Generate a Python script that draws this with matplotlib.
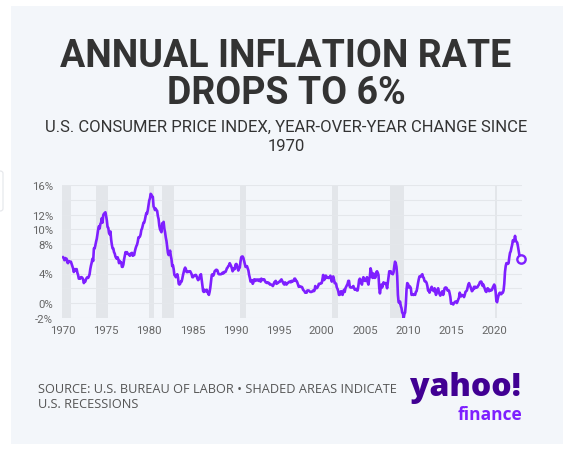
import matplotlib
matplotlib.use("Agg")
import matplotlib.pyplot as plt
import numpy as np
from matplotlib import font_manager
from matplotlib.patches import Rectangle, FancyBboxPatch

# monthly CPI year-over-year change (%), Jan 1970 .. Feb 2023
cpi_1970s = [
    6.2, 6.1, 5.8, 6.1, 6.0, 6.0, 5.5, 5.4, 5.7, 5.6, 5.6, 5.6,
    5.3, 5.0, 4.7, 4.2, 4.4, 4.6, 4.4, 4.6, 4.1, 3.8, 3.3, 3.3,
    3.3, 3.5, 3.5, 3.4, 3.2, 2.7, 2.9, 2.9, 3.2, 3.4, 3.5, 3.4,
    3.6, 3.9, 4.6, 5.1, 5.5, 6.0, 5.7, 7.4, 7.4, 7.8, 8.3, 8.7,
    9.4, 10.0, 10.4, 10.1, 10.7, 10.9, 11.5, 10.9, 11.9, 12.1, 12.2, 12.3,
    11.8, 11.2, 10.3, 10.2, 9.5, 9.3, 9.7, 8.6, 7.9, 7.4, 7.4, 6.9,
    6.7, 6.3, 6.1, 6.0, 6.2, 5.9, 5.4, 5.7, 5.5, 5.5, 4.9, 4.9,
    5.2, 5.9, 6.4, 6.9, 6.7, 6.9, 6.7, 6.6, 6.6, 6.4, 6.7, 6.7,
    6.8, 6.4, 6.6, 6.5, 7.0, 7.4, 7.7, 7.9, 8.3, 8.9, 8.9, 9.0,
    9.3, 9.9, 10.1, 10.5, 10.9, 10.9, 11.3, 11.8, 12.2, 12.1, 12.6, 13.3,
]
cpi_1980s = [
    13.9, 14.2, 14.8, 14.7, 14.4, 14.4, 13.1, 12.9, 12.6, 12.8, 12.6, 12.5,
    11.8, 11.4, 10.5, 10.0, 9.8, 9.6, 10.8, 10.8, 11.0, 10.1, 9.6, 8.9,
    8.4, 7.6, 6.8, 6.5, 6.7, 7.1, 6.4, 5.9, 5.0, 5.1, 4.6, 3.8,
    3.7, 3.5, 3.6, 3.9, 3.5, 2.6, 2.5, 2.6, 2.9, 2.9, 3.3, 3.8,
    4.2, 4.6, 4.8, 4.6, 4.2, 4.2, 4.2, 4.3, 4.3, 4.3, 4.1, 3.9,
    3.5, 3.5, 3.7, 3.7, 3.8, 3.8, 3.6, 3.3, 3.1, 3.2, 3.5, 3.8,
    3.9, 3.1, 2.2, 1.6, 1.5, 1.8, 1.6, 1.6, 1.8, 1.5, 1.3, 1.1,
    1.5, 2.1, 3.0, 3.8, 3.9, 3.7, 3.9, 4.3, 4.4, 4.5, 4.5, 4.4,
    4.0, 3.9, 3.9, 3.9, 3.9, 4.0, 4.1, 4.0, 4.2, 4.2, 4.2, 4.4,
    4.7, 4.8, 5.0, 5.1, 5.4, 5.2, 5.0, 4.7, 4.3, 4.5, 4.7, 4.6,
]
cpi_1990s = [
    5.2, 5.3, 5.2, 4.7, 4.4, 4.7, 4.8, 5.6, 6.2, 6.3, 6.3, 6.1,
    5.7, 5.3, 4.9, 4.9, 5.0, 4.7, 4.4, 3.8, 3.4, 2.9, 3.0, 3.1,
    2.6, 2.8, 3.2, 3.2, 3.0, 3.1, 3.2, 3.1, 3.0, 3.2, 3.0, 2.9,
    3.3, 3.2, 3.1, 3.2, 3.2, 3.0, 2.8, 2.8, 2.7, 2.8, 2.7, 2.7,
    2.5, 2.5, 2.5, 2.4, 2.3, 2.5, 2.8, 2.9, 3.0, 2.6, 2.7, 2.7,
    2.8, 2.9, 2.9, 3.1, 3.2, 3.0, 2.8, 2.6, 2.5, 2.8, 2.6, 2.5,
    2.7, 2.7, 2.8, 2.9, 2.9, 2.8, 3.0, 2.9, 3.0, 3.0, 3.3, 3.3,
    3.0, 3.0, 2.8, 2.5, 2.2, 2.3, 2.2, 2.2, 2.2, 2.1, 1.8, 1.7,
    1.6, 1.4, 1.4, 1.4, 1.7, 1.7, 1.7, 1.6, 1.5, 1.5, 1.5, 1.6,
    1.7, 1.6, 1.7, 2.3, 2.1, 2.0, 2.1, 2.3, 2.6, 2.6, 2.6, 2.7,
]
cpi_2000s = [
    2.7, 3.2, 3.8, 3.1, 3.2, 3.7, 3.7, 3.4, 3.5, 3.4, 3.4, 3.4,
    3.7, 3.5, 2.9, 3.3, 3.6, 3.2, 2.7, 2.7, 2.6, 2.1, 1.9, 1.6,
    1.1, 1.1, 1.5, 1.6, 1.2, 1.1, 1.5, 1.8, 1.5, 2.0, 2.2, 2.4,
    2.6, 3.0, 3.0, 2.2, 2.1, 2.1, 2.1, 2.2, 2.3, 2.0, 1.8, 1.9,
    1.9, 1.7, 1.7, 2.3, 3.1, 3.3, 3.0, 2.7, 2.5, 3.2, 3.5, 3.3,
    3.0, 3.0, 3.1, 3.5, 2.8, 2.5, 3.2, 3.6, 4.7, 4.3, 3.5, 3.4,
    4.0, 3.6, 3.4, 3.5, 4.2, 4.3, 4.1, 3.8, 2.1, 1.3, 2.0, 2.5,
    2.1, 2.4, 2.8, 2.6, 2.7, 2.7, 2.4, 2.0, 2.8, 3.5, 4.3, 4.1,
    4.3, 4.0, 4.0, 3.9, 4.2, 5.0, 5.6, 5.4, 4.9, 3.7, 1.1, 0.1,
    0.0, 0.2, -0.4, -0.7, -1.3, -1.4, -2.1, -1.5, -1.3, -0.2, 1.8, 2.7,
]
cpi_2010s = [
    2.6, 2.1, 2.3, 2.2, 2.0, 1.1, 1.2, 1.1, 1.1, 1.2, 1.1, 1.5,
    1.6, 2.1, 2.7, 3.2, 3.6, 3.6, 3.6, 3.8, 3.9, 3.5, 3.4, 3.0,
    2.9, 2.9, 2.7, 2.3, 1.7, 1.7, 1.4, 1.7, 2.0, 2.2, 1.8, 1.7,
    1.6, 2.0, 1.5, 1.1, 1.4, 1.8, 2.0, 1.5, 1.2, 1.0, 1.2, 1.5,
    1.6, 1.1, 1.5, 2.0, 2.1, 2.1, 2.0, 1.7, 1.7, 1.7, 1.3, 0.8,
    -0.1, 0.0, -0.1, -0.2, 0.0, 0.1, 0.2, 0.2, 0.0, 0.2, 0.5, 0.7,
    1.4, 1.0, 0.9, 1.1, 1.0, 1.0, 0.8, 1.1, 1.5, 1.6, 1.7, 2.1,
    2.5, 2.7, 2.4, 2.2, 1.9, 1.6, 1.7, 1.9, 2.2, 2.0, 2.2, 2.1,
    2.1, 2.2, 2.4, 2.5, 2.8, 2.9, 2.9, 2.7, 2.3, 2.5, 2.2, 1.9,
    1.6, 1.5, 1.9, 2.0, 1.8, 1.6, 1.8, 1.7, 1.7, 1.8, 2.1, 2.3,
]
cpi_2020s = [
    2.5, 2.3, 1.5, 0.3, 0.1, 0.6, 1.0, 1.3, 1.4, 1.2, 1.2, 1.4,
    1.4, 1.7, 2.6, 4.2, 5.0, 5.4, 5.4, 5.3, 5.4, 6.2, 6.8, 7.0,
    7.5, 7.9, 8.5, 8.3, 8.6, 9.1, 8.5, 8.3, 8.2, 7.7, 7.1, 6.5,
    6.4, 6.0,
]

# recession periods (start, end) in decimal years
recession_start = [1969.92, 1973.83, 1980.0, 1981.5, 1990.5, 2001.17, 2007.92, 2020.08]
recession_end = [1970.88, 1975.2, 1980.5, 1982.88, 1991.2, 2001.88, 2009.5, 2020.3]

x_ticks = [1970, 1975, 1980, 1985, 1990, 1995, 2000, 2005, 2010, 2015, 2020]
y_ticks = [-2, 0, 2, 4, 6, 8, 10, 12, 14, 16]
y_labels = ["-2%", "0%", "", "4%", "", "8%", "10%", "12%", "", "16%"]

cpi = np.array(cpi_1970s + cpi_1980s + cpi_1990s + cpi_2000s + cpi_2010s + cpi_2020s)
years = 1970 + np.arange(len(cpi)) / 12

installed = {f.name for f in font_manager.fontManager.ttflist}
narrow = "Liberation Sans Narrow" if "Liberation Sans Narrow" in installed else "Roboto"

W, H = 563, 456
card = "#f3f6fa"
purple = "#7e1fff"


def fx(px):
    return px / W


def fy(py):
    return 1 - py / H


fig = plt.figure(figsize=(W / 100, H / 100), dpi=100, facecolor="white")
fig.patches.append(Rectangle((fx(11), fy(445)), 1 - fx(11), fy(7) - fy(445),
                             transform=fig.transFigure, facecolor=card, edgecolor="none", zorder=-10))
fig.patches.append(FancyBboxPatch((fx(-8), fy(212)), fx(11), fy(172) - fy(212),
                                  boxstyle="round,pad=0,rounding_size=0.005",
                                  transform=fig.transFigure, facecolor="white",
                                  edgecolor="#e4e6ea", lw=0.8, zorder=-9))

ax = fig.add_axes([fx(62.3), fy(318.75), fx(521.8) - fx(62.3), fy(186) - fy(318.75)])
ax.set_facecolor("none")

for s, e in zip(recession_start, recession_end):
    ax.axvspan(s, e, color="#e3e6ea", lw=0, zorder=0)

ax.plot(years, cpi, color=purple, lw=1.9, solid_joinstyle="round", zorder=3)
ax.plot(years[-1], cpi[-1], "o", ms=6, mfc=card, mec=purple, mew=1.7, zorder=4, clip_on=False)

ax.set_xlim(1969.92, 2023.2)
ax.set_ylim(-2, 16)
ax.set_xticks(x_ticks)
ax.set_yticks(y_ticks)
ax.set_yticklabels(y_labels)
ax.grid(axis="y", color="#e4e7eb", lw=0.8, zorder=1)
ax.set_axisbelow(True)
for sp in ax.spines.values():
    sp.set_visible(False)
ax.tick_params(axis="both", length=0, colors="#666666", labelsize=8.2)
ax.tick_params(axis="y", pad=6.5)
ax.tick_params(axis="x", pad=5.5)
for lab in ax.get_xticklabels() + ax.get_yticklabels():
    lab.set_fontfamily(narrow)

fig.text(fx(286), fy(67), "ANNUAL INFLATION RATE", ha="center", va="baseline",
         fontsize=27, fontweight="bold", family="Roboto", color="#333333")
fig.text(fx(286), fy(104), "DROPS TO 6%", ha="center", va="baseline",
         fontsize=27, fontweight="bold", family="Roboto", color="#333333")
fig.text(fx(286), fy(131.5), "U.S. CONSUMER PRICE INDEX, YEAR-OVER-YEAR CHANGE SINCE",
         ha="center", va="baseline", fontsize=12, family="Roboto", color="#333333")
fig.text(fx(286), fy(151), "1970", ha="center", va="baseline",
         fontsize=12, family="Roboto", color="#333333")

fig.text(fx(38), fy(393), "SOURCE: U.S. BUREAU OF LABOR \u2022 SHADED AREAS INDICATE",
         ha="left", va="baseline", fontsize=9.2, family="Open Sans", color="#555555")
fig.text(fx(38), fy(408), "U.S. RECESSIONS",
         ha="left", va="baseline", fontsize=9.2, family="Open Sans", color="#555555")

fig.text(fx(410), fy(396), "yahoo!", ha="left", va="baseline",
         fontsize=23, fontweight="heavy", family="Open Sans", color="#410093")
fig.text(fx(522), fy(420), "finance", ha="right", va="baseline",
         fontsize=12.5, fontweight="bold", family="Open Sans", color=purple)

fig.savefig("out.png", dpi=100, facecolor="white")
